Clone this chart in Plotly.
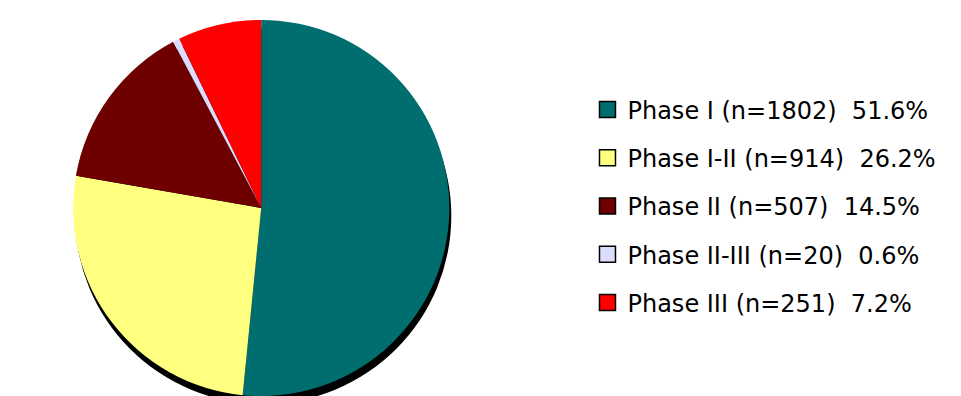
import plotly.graph_objects as go

phases = ["Phase I", "Phase I-II", "Phase II", "Phase II-III", "Phase III"]
counts = [1802, 914, 507, 20, 251]
percents = [51.6, 26.2, 14.5, 0.6, 7.2]
colors = ["#006E6E", "#FFFF80", "#6E0000", "#DCDCFF", "#FF0000"]

labels = [f"{p} (n={n})  {pc}%" for p, n, pc in zip(phases, counts, percents)]

fig = go.Figure()

# drop shadow under the pie
fig.add_trace(
    go.Pie(
        labels=["shadow"],
        values=[1],
        marker=dict(colors=["#000000"], line=dict(width=0)),
        textinfo="none",
        hoverinfo="skip",
        showlegend=False,
        sort=False,
        domain=dict(x=[0.002, 0.529], y=[0.0, 0.95]),
    )
)

fig.add_trace(
    go.Pie(
        labels=labels,
        values=counts,
        marker=dict(colors=colors, line=dict(width=0)),
        textinfo="none",
        sort=False,
        direction="clockwise",
        rotation=0,
        showlegend=False,
        domain=dict(x=[0.0, 0.527], y=[0.02, 0.97]),
    )
)

# legend entries (square swatches with black outline)
for lab, col in zip(labels, colors):
    fig.add_trace(
        go.Scatter(
            x=[None],
            y=[None],
            mode="markers",
            name=lab,
            legendgroup=lab,
            marker=dict(symbol="square", size=16, color=col, line=dict(color="#000000", width=1.5)),
        )
    )

fig.update_layout(
    width=961,
    height=396,
    margin=dict(l=0, r=0, t=0, b=0),
    paper_bgcolor="white",
    plot_bgcolor="white",
    font=dict(family="DejaVu Sans", color="#000000"),
    xaxis=dict(visible=False),
    yaxis=dict(visible=False),
    legend=dict(
        x=0.603,
        y=0.5,
        xanchor="left",
        yanchor="middle",
        font=dict(size=24, family="DejaVu Sans"),
        tracegroupgap=14,
    ),
)

fig.write_html("out.html")
